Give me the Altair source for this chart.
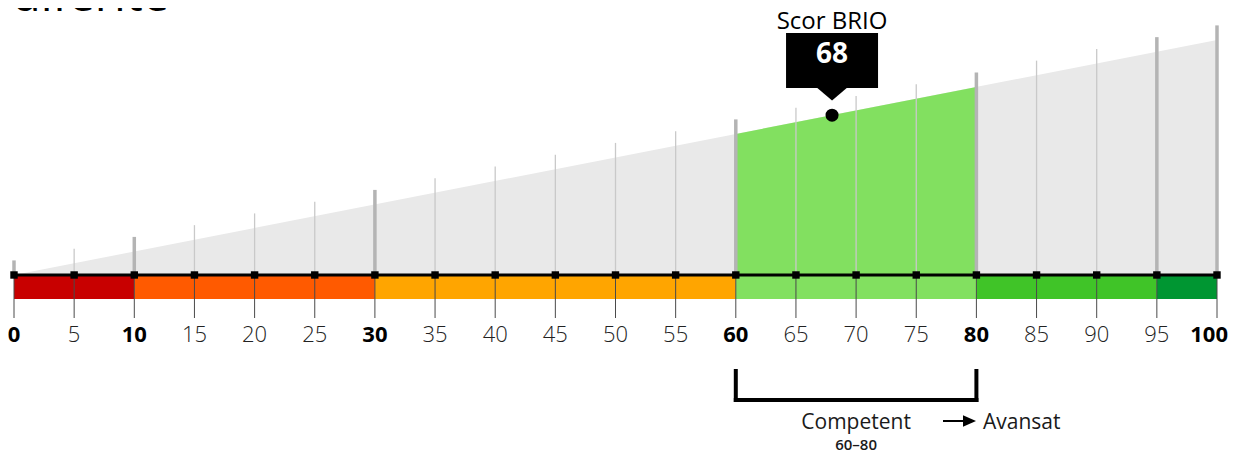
import altair as alt
import pandas as pd

# ---- data ----
tick_values = [0, 5, 10, 15, 20, 25, 30, 35, 40, 45, 50, 55, 60, 65, 70, 75, 80, 85, 90, 95, 100]
bold_ticks = [0, 10, 30, 60, 80, 100]
band_starts = [0, 10, 30, 60, 80, 95]
band_ends = [10, 30, 60, 80, 95, 100]
band_colors = ["#c80000", "#ff5a00", "#ffa500", "#82e060", "#40c428", "#009632"]
score = 68
level_low, level_high = 60, 80
level_name = "Competent"
next_level = "Avansat"
level_range = "60–80"
score_title = "Scor BRIO"
title_text = "diferite"

FONT = "Open Sans"
W, H = 1203, 447
LINE_EXTRA = 6.2

ticks_df = pd.DataFrame({"t": tick_values})
ticks_df["bold"] = ticks_df["t"].isin(bold_ticks)
ticks_df["thick"] = ticks_df["t"].isin(band_starts + band_ends)
ticks_df["zero"] = 0
ticks_df["top"] = ticks_df["t"] + LINE_EXTRA
bands_df = pd.DataFrame({"s": band_starts, "e": band_ends, "c": band_colors})
wedge_df = pd.DataFrame({"x": [0, 100], "y": [0, 100], "zero": [0, 0]})
green_df = pd.DataFrame({"x": [level_low, level_high], "y": [level_low, level_high], "zero": [0, 0]})
axis_df = pd.DataFrame({"x0": [0], "x1": [100], "zero": [0]})
score_df = pd.DataFrame({"x": [score], "y": [score], "label": [str(score)], "ttl": [score_title]})
level_df = pd.DataFrame({"lo": [level_low], "hi": [level_high],
                         "mid": [(level_low + level_high) / 2],
                         "name": [level_name], "rng": [level_range], "next": [next_level],
                         "tt": [title_text]})

xs = alt.Scale(domain=[0, 100], nice=False, zero=False)
ys = alt.Scale(domain=[113.6 - H / 2.3502, 113.6], nice=False, zero=False)
X = lambda f: alt.X(f, scale=xs, axis=None)
Y = lambda f: alt.Y(f, scale=ys, axis=None)

wedge = alt.Chart(wedge_df).mark_area(color="#e9e9e9").encode(
    x=X("x:Q"), y=Y("y:Q"), y2="zero:Q")
green = alt.Chart(green_df).mark_area(color="#82e060").encode(
    x=X("x:Q"), y=Y("y:Q"), y2="zero:Q")

thin_lines = alt.Chart(ticks_df[~ticks_df["thick"]]).mark_rule(
    color="#c9c9c9", strokeWidth=1.3).encode(x=X("t:Q"), y=Y("top:Q"), y2="zero:Q")
thick_lines = alt.Chart(ticks_df[ticks_df["thick"]]).mark_rule(
    color="#b4b4b4", strokeWidth=3.5).encode(x=X("t:Q"), y=Y("top:Q"), y2="zero:Q")

bands = alt.Chart(bands_df).mark_rect().encode(
    x=X("s:Q"), x2="e:Q", y=alt.value(268), y2=alt.value(291),
    color=alt.Color("c:N", scale=None))

tick_marks = alt.Chart(ticks_df).mark_rule(color="#4a4a4a", strokeWidth=1).encode(
    x=X("t:Q"), y=alt.value(267), y2=alt.value(310))

axis_line = alt.Chart(axis_df).mark_rule(color="black", strokeWidth=3).encode(
    x=X("x0:Q"), x2="x1:Q", y=Y("zero:Q"))

squares = alt.Chart(ticks_df).mark_square(color="black", size=55, opacity=1).encode(
    x=X("t:Q"), y=Y("zero:Q"))

labels_light = alt.Chart(ticks_df[~ticks_df["bold"]]).mark_text(
    font=FONT, fontSize=22, fontWeight=300, color="#222", baseline="middle").encode(
    x=X("t:Q"), y=alt.value(327), text="t:Q")
bold_df = ticks_df[ticks_df["bold"]]
labels_bold = alt.Chart(bold_df[bold_df["t"] < 100]).mark_text(
    font=FONT, fontSize=22, fontWeight="bold", color="black", baseline="middle").encode(
    x=X("t:Q"), y=alt.value(327), text="t:Q")
label_last = alt.Chart(bold_df[bold_df["t"] == 100]).mark_text(
    font=FONT, fontSize=22, fontWeight="bold", color="black", baseline="middle",
    align="right", dx=11).encode(
    x=X("t:Q"), y=alt.value(327), text="t:Q")

# callout box: a wide vertical rule + pointer triangle
callout_box = alt.Chart(score_df).mark_rule(color="black", strokeWidth=92, strokeCap="butt").encode(
    x=X("x:Q"), y=alt.value(25), y2=alt.value(80))
callout_tip = alt.Chart(score_df).mark_point(
    shape="M-1,-0.45L1,-0.45L0,0.4Z", size=900, filled=True, color="black", opacity=1).encode(
    x=X("x:Q"), y=alt.value(86.5))
dot = alt.Chart(score_df).mark_circle(color="black", size=170, opacity=1).encode(
    x=X("x:Q"), y=Y("y:Q"))
score_txt = alt.Chart(score_df).mark_text(
    font=FONT, fontSize=28, fontWeight="bold", color="white", baseline="alphabetic").encode(
    x=X("x:Q"), y=alt.value(55), text="label:N")
score_ttl = alt.Chart(score_df).mark_text(
    font=FONT, fontSize=24, color="black", baseline="alphabetic").encode(
    x=X("x:Q"), y=alt.value(21), text="ttl:N")

br_left = alt.Chart(level_df).mark_rule(color="black", strokeWidth=4, strokeCap="square").encode(
    x=X("lo:Q"), y=alt.value(363), y2=alt.value(392))
br_right = alt.Chart(level_df).mark_rule(color="black", strokeWidth=4, strokeCap="square").encode(
    x=X("hi:Q"), y=alt.value(363), y2=alt.value(392))
br_bottom = alt.Chart(level_df).mark_rule(color="black", strokeWidth=4, strokeCap="square").encode(
    x=X("lo:Q"), x2="hi:Q", y=alt.value(392))

name_txt = alt.Chart(level_df).mark_text(
    font=FONT, fontSize=21, fontWeight=500, color="#1a1a1a", baseline="alphabetic").encode(
    x=X("mid:Q"), y=alt.value(421), text="name:N")
rng_txt = alt.Chart(level_df).mark_text(
    font=FONT, fontSize=15, fontWeight=600, color="#1a1a1a", baseline="alphabetic").encode(
    x=X("mid:Q"), y=alt.value(442), text="rng:N")
arrow_line = alt.Chart(level_df).mark_rule(color="black", strokeWidth=2).encode(
    x=alt.value(929), x2=alt.value(952), y=alt.value(413))
arrow_head = alt.Chart(level_df).mark_point(
    shape="M-1,-0.9L1,0L-1,0.9Z", size=169, filled=True, color="black", opacity=1).encode(
    x=alt.value(955.5), y=alt.value(413))
next_txt = alt.Chart(level_df).mark_text(
    font=FONT, fontSize=21, fontWeight=500, color="#1a1a1a", baseline="alphabetic", align="left").encode(
    x=alt.value(969), y=alt.value(421), text="next:N")

title = alt.Chart(level_df).mark_text(
    font=FONT, fontSize=47, color="black", baseline="alphabetic", align="left").encode(
    x=alt.value(-2), y=alt.value(3), text="tt:N")

chart = alt.layer(
    wedge, green, thin_lines, thick_lines, bands, tick_marks, axis_line, squares,
    labels_light, labels_bold, label_last, callout_box, callout_tip, dot, score_txt, score_ttl,
    br_left, br_right, br_bottom, name_txt, rng_txt, arrow_line, arrow_head, next_txt, title
).properties(
    width=W, height=H,
    autosize=alt.AutoSizeParams(type="none"),
    padding={"left": 6, "top": 0, "right": 12, "bottom": 0},
).configure_view(stroke=None)

chart.save("out.html", embed_options={"renderer": "svg", "actions": False})
